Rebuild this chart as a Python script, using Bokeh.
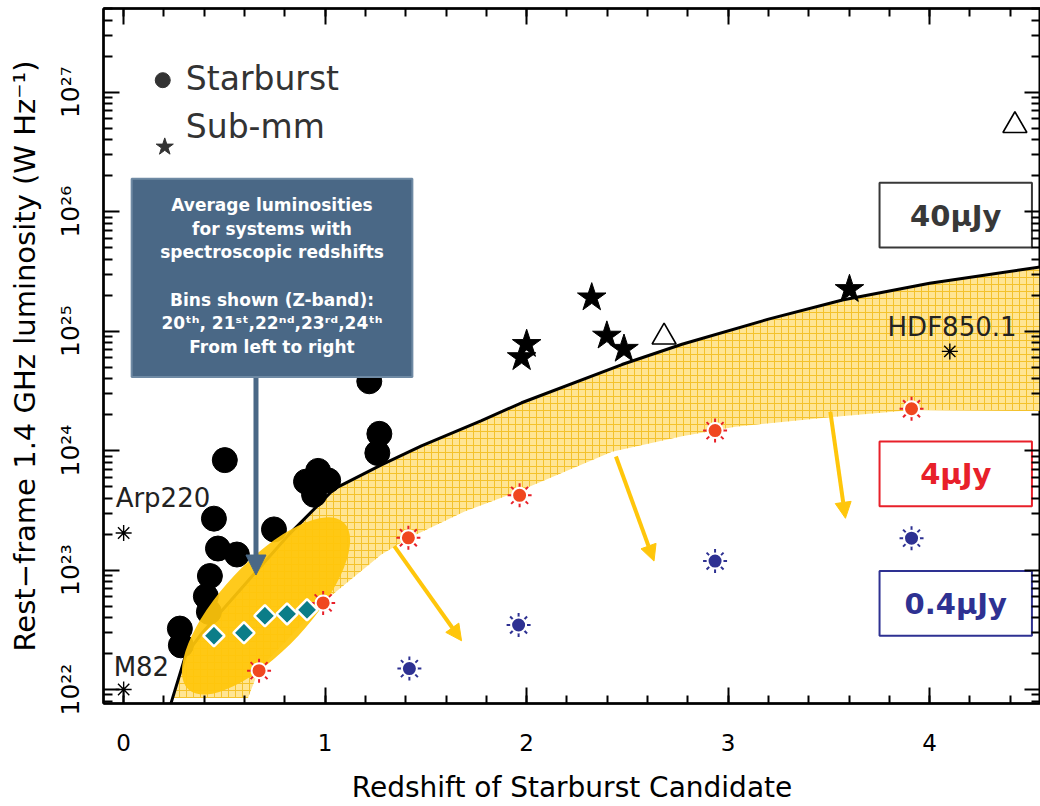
import math
from bokeh.plotting import figure
from bokeh.models import (Range1d, FixedTicker, LinearAxis, LogAxis,
                          Arrow, NormalHead, ColumnDataSource)
from bokeh.core.properties import value
from bokeh.embed import file_html
from bokeh.resources import INLINE

# ---------------- data (redshift, log10 luminosity) ----------------
starburst_z = [0.502, 0.448, 0.468, 0.562, 0.428, 0.408, 0.423, 0.279, 0.284,
               0.746, 0.905, 0.965, 1.015, 0.945, 1.219, 1.269, 1.259]
starburst_logL = [23.92, 23.43, 23.18, 23.13, 22.95, 22.78, 22.65, 22.51, 22.37,
                  23.34, 23.74, 23.83, 23.75, 23.63, 24.58, 24.14, 23.98]

submm_z = [2.323, 2.000, 1.975, 2.398, 2.483, 3.602]
submm_logL = [25.28, 24.89, 24.78, 24.96, 24.85, 25.35]

triangle_z = [2.682, 4.423]
triangle_logL = [24.95, 26.72]

named_names = ["Arp220", "M82", "HDF850.1"]
named_z = [0.0, 0.0, 4.10]
named_logL = [23.31, 22.00, 24.83]

limit40_z = [0.234, 0.308, 0.383, 0.607, 0.816, 1.045, 1.279, 1.478, 1.776,
             1.975, 2.473, 2.771, 3.200, 3.567, 4.000, 4.562]
limit40_logL = [21.88, 22.29, 22.46, 22.89, 23.29, 23.68, 23.88, 24.04, 24.25,
                24.40, 24.72, 24.89, 25.10, 25.26, 25.40, 25.54]

band_lower_z = [4.562, 3.915, 3.517, 3.035, 2.771, 2.423, 1.960, 1.692, 1.418,
                1.279, 0.990, 0.831, 0.672, 0.617, 0.243]
band_lower_logL = [24.33, 24.34, 24.28, 24.20, 24.12, 23.99, 23.66, 23.49, 23.27,
                   23.13, 22.73, 22.45, 22.17, 21.93, 21.93]

avg_z = [0.448, 0.597, 0.701, 0.811, 0.910]
avg_logL = [22.45, 22.475, 22.617, 22.633, 22.667]

lim4_z = [0.672, 0.990, 1.413, 1.965, 2.935, 3.910]
lim4_logL = [22.158, 22.725, 23.27, 23.625, 24.167, 24.35]

lim04_z = [1.418, 1.960, 2.935, 3.910]
lim04_logL = [22.175, 22.54, 23.075, 23.267]

arrow_z0 = [1.343, 2.443, 3.507]
arrow_logL0 = [23.20, 23.95, 24.325]
arrow_z1 = [1.677, 2.632, 3.582]
arrow_logL1 = [22.408, 23.075, 23.433]

x_ticks = [0, 1, 2, 3, 4]
x_tick_labels = ["0", "1", "2", "3", "4"]
y_exponents = [22, 23, 24, 25, 26, 27]
y_tick_labels = ["10²²", "10²³", "10²⁴", "10²⁵", "10²⁶", "10²⁷"]

flux_labels = ["40μJy", "4μJy", "0.4μJy"]
flux_colors = ["#383838", "#E8202A", "#2E3192"]

def L(v):
    return [10 ** a for a in v]

# layout helpers: reference-pixel position -> data coordinates
def PX(px):
    return (px - 123) / 201.0

def PY(py):
    return 10 ** (27 - (py - 92) / 120.0)

FONT = value("DejaVu Sans")

p = figure(width=1040, height=806, y_axis_type="log", output_backend="svg",
           toolbar_location=None,
           x_range=Range1d(-0.1, 4.55), y_range=Range1d(10 ** 21.883, 10 ** 27.70),
           min_border_left=103, min_border_bottom=100, min_border_top=8, min_border_right=0)
p.grid.visible = False
p.outline_line_color = "black"
p.outline_line_width = 2

xt = FixedTicker(ticks=x_ticks, minor_ticks=[round(0.2 * i, 1) for i in range(0, 24)])
yt = FixedTicker(ticks=[10.0 ** e for e in y_exponents],
                 minor_ticks=[k * 10.0 ** e for e in range(21, 28) for k in range(2, 10)])

def style_axis(ax, major=16, minor=8):
    ax.axis_line_width = 2.5
    ax.axis_line_color = "black"
    ax.major_tick_in = major
    ax.major_tick_out = 0
    ax.minor_tick_in = minor
    ax.minor_tick_out = 0
    ax.major_tick_line_width = 2
    ax.minor_tick_line_width = 2
    ax.major_tick_line_color = "black"
    ax.minor_tick_line_color = "black"

xa = p.xaxis[0]
xa.ticker = xt
style_axis(xa)
xa.major_label_overrides = {t: s for t, s in zip(x_ticks, x_tick_labels)}
xa.major_label_text_font = "DejaVu Sans"
xa.major_label_text_font_size = "23px"
xa.major_label_text_color = "black"
xa.major_label_standoff = 30
xa.axis_label = "Redshift of Starburst Candidate"
xa.axis_label_text_font = "DejaVu Sans"
xa.axis_label_text_font_size = "28px"
xa.axis_label_text_font_style = "normal"
xa.axis_label_text_color = "black"
xa.axis_label_standoff = 17

ya = p.yaxis[0]
ya.ticker = yt
style_axis(ya, 16, 9)
ya.major_label_overrides = {10.0 ** e: s for e, s in zip(y_exponents, y_tick_labels)}
ya.major_label_orientation = "parallel"
ya.major_label_text_font = "DejaVu Sans"
ya.major_label_text_font_size = "25px"
ya.major_label_text_color = "black"
ya.major_label_standoff = 18
ya.axis_label = "Rest\u2212frame 1.4 GHz luminosity (W Hz\u207b\u00b9)"
ya.axis_label_text_font = "DejaVu Sans"
ya.axis_label_text_font_size = "29px"
ya.axis_label_text_font_style = "normal"
ya.axis_label_text_color = "black"
ya.axis_label_standoff = 12

top = LinearAxis(ticker=xt, major_label_text_font_size="1px",
                 major_label_text_color=None, major_label_standoff=0)
style_axis(top)
p.add_layout(top, "above")
right = LogAxis(ticker=yt, major_label_text_font_size="1px",
                major_label_text_color=None, major_label_standoff=0)
style_axis(right, 16, 9)
p.add_layout(right, "right")

# ---------------- shaded band between 40 uJy and 4 uJy limits ----------------
band_x = limit40_z[1:] + band_lower_z
band_y = L(limit40_logL[1:] + band_lower_logL)
p.patch(band_x, band_y, fill_color="#FFE594", line_color=None,
        hatch_pattern="+", hatch_color="#F4C22C", hatch_scale=7, hatch_weight=1)

# 40 uJy limit curve
p.line(limit40_z, L(limit40_logL), line_color="black", line_width=3)

# starbursts
p.scatter(starburst_z, L(starburst_logL), marker="circle", size=25,
          fill_color="black", line_color="black")

# sub-mm stars
p.scatter(submm_z, L(submm_logL), marker="star", size=30,
          fill_color="black", line_color="black")

# open triangles
p.scatter(triangle_z, L(triangle_logL), marker="triangle", size=24,
          fill_color=None, line_color="black", line_width=1.6)

# named local sources (asterisks)
p.scatter(named_z, L(named_logL), marker="asterisk", size=16,
          line_color="black", line_width=1.4)
p.text(x=[PX(115), PX(113), PX(885)], y=[PY(500), PY(669), PY(328)], text=named_names,
       text_font=FONT, text_font_size="26px", text_color="#222222",
       text_align="left", text_baseline="middle")

# highlight ellipse
p.ellipse(x=[PX(265)], y=[PY(608)], width=228, height=88, width_units="screen",
          height_units="screen", angle=math.radians(47),
          fill_color="#FFC60B", fill_alpha=0.93, line_color=None)

# yellow arrows
asrc = ColumnDataSource(dict(x0=arrow_z0, y0=L(arrow_logL0), x1=arrow_z1, y1=L(arrow_logL1)))
p.add_layout(Arrow(x_start="x0", y_start="y0", x_end="x1", y_end="y1", source=asrc,
                   line_color="#FFC60B", line_width=4,
                   end=NormalHead(size=16, fill_color="#FFC60B", line_color="#FFC60B")))

# 4 uJy suns
p.scatter(lim4_z, L(lim4_logL), marker="asterisk", size=24, line_color="#E8202A", line_width=2)
p.scatter(lim4_z, L(lim4_logL), marker="circle", size=15, fill_color="#F0471F",
          line_color="white", line_width=2)
# 0.4 uJy suns
p.scatter(lim04_z, L(lim04_logL), marker="asterisk", size=24, line_color="#2E3192", line_width=2)
p.scatter(lim04_z, L(lim04_logL), marker="circle", size=15, fill_color="#2E3192",
          line_color="white", line_width=2)

# average luminosities (diamonds)
p.scatter(avg_z, L(avg_logL), marker="square", size=15, angle=math.pi / 4,
          fill_color="#0B7D88", line_color="white", line_width=2.5)

# callout box
p.quad(left=[PX(131)], right=[PX(411)], top=[PY(179)], bottom=[PY(378)],
       fill_color="#4A6886", line_color="#6F8AA4", line_width=2)
box_lines = ["Average luminosities", "for systems with", "spectroscopic redshifts",
             "Bins shown (Z-band):", "20ᵗʰ, 21ˢᵗ,22ⁿᵈ,23ʳᵈ,24ᵗʰ", "From left to right"]
box_line_y = [205, 229, 253, 301, 324, 348]
p.text(x=[PX(271)] * 6, y=[PY(v) for v in box_line_y], text=box_lines,
       text_font=FONT, text_font_size="17px", text_font_style="bold",
       text_color="white", text_align="center", text_baseline="middle")
p.add_layout(Arrow(x_start=PX(255), y_start=PY(379), x_end=PX(255), y_end=PY(577),
                   line_color="#4A6886", line_width=5,
                   end=NormalHead(size=20, fill_color="#4A6886", line_color="#4A6886")))

# legend
p.scatter([PX(162)], [PY(80)], marker="circle", size=15, fill_color="#333333", line_color="#333333")
p.scatter([PX(164)], [PY(147)], marker="star", size=18, fill_color="#333333", line_color="#333333")
p.text(x=[PX(185), PX(185)], y=[PY(78), PY(127)], text=["Starburst", "Sub-mm"],
       text_font=FONT, text_font_size="33px", text_color="#333333",
       text_align="left", text_baseline="middle")

# flux-limit boxes
box_tops = [PY(183), PY(443), PY(573)]
box_bottoms = [PY(248), PY(508), PY(638)]
p.quad(left=[PX(877)] * 3, right=[PX(1029)] * 3, top=box_tops, bottom=box_bottoms,
       fill_color="white", line_color=flux_colors, line_width=2)
p.text(x=[PX(953)] * 3, y=[PY(216), PY(476), PY(606)], text=flux_labels, text_font=FONT,
       text_font_size="29px", text_font_style="bold", text_color=flux_colors,
       text_align="center", text_baseline="middle")

open("out.html", "w").write(file_html(p, INLINE))
